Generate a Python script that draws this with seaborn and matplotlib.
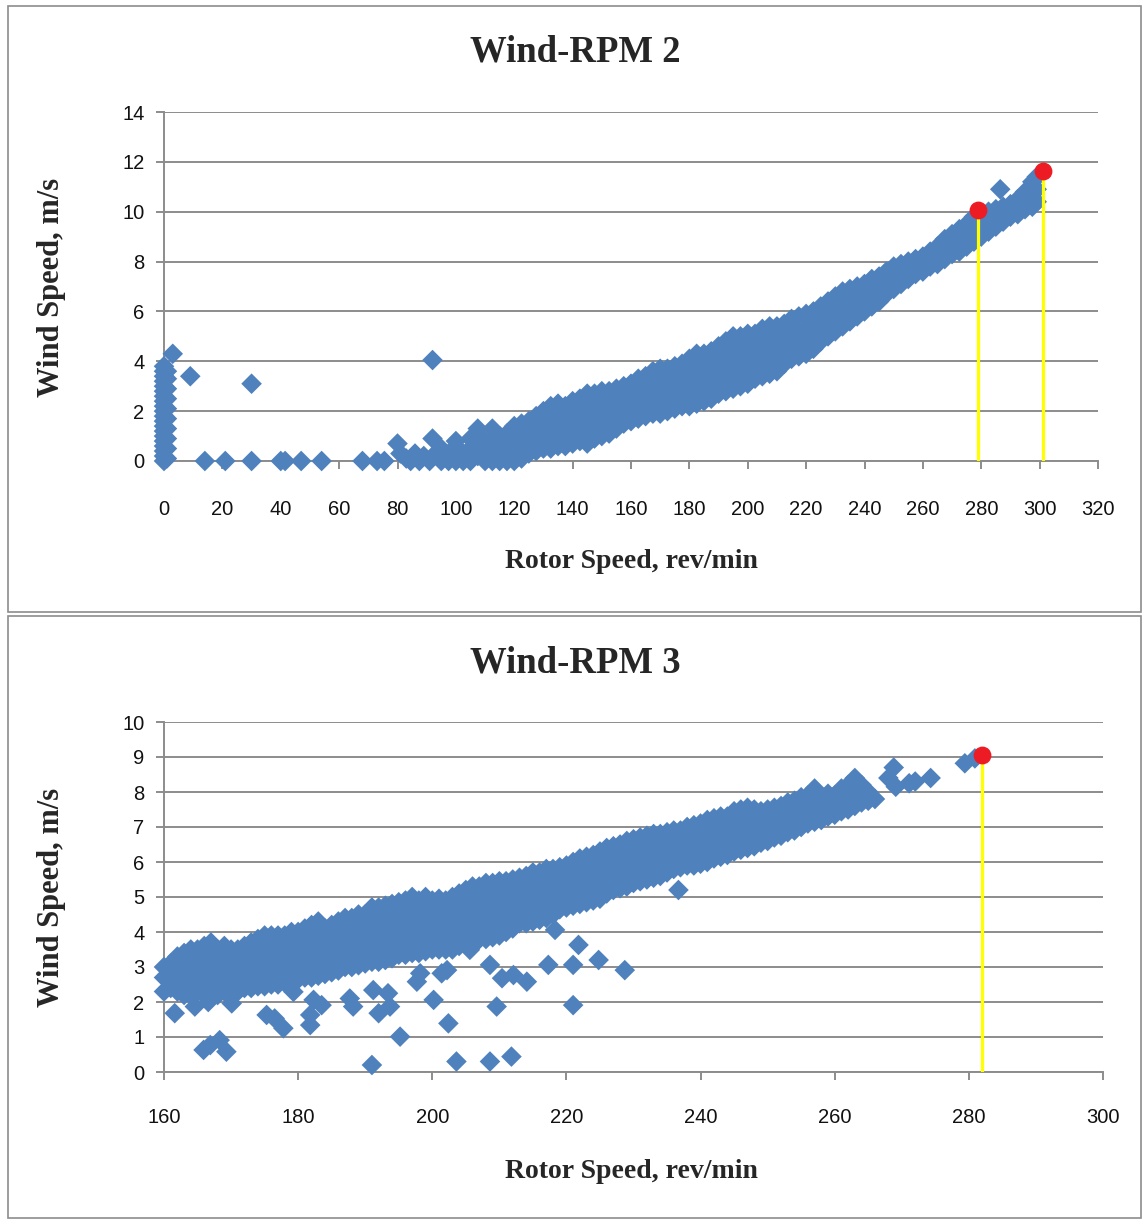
import pandas as pd
import seaborn as sns
import matplotlib.pyplot as plt
from matplotlib.patches import Rectangle

# ---- Wind-RPM 2 ----
# turbine standing still / idling near 0 rpm
idle2 = [(0, 0.0), (0, 0.2), (0, 0.4), (0, 0.6), (0, 0.8), (0, 1.0), (0, 1.2),
         (0, 1.4), (0, 1.6), (0, 1.8), (0, 2.0), (0, 2.2), (0, 2.4), (0, 2.6),
         (0, 2.8), (0, 3.0), (0, 3.2), (0, 3.4), (0, 3.6), (0, 3.8),
         (1, 0.1), (1, 0.5), (1, 0.9), (1, 1.3), (1, 1.7), (1, 2.1), (1, 2.5),
         (1, 2.9), (1, 3.3), (1, 3.6), (3, 4.3)]
sparse2 = [(9, 3.4), (30, 3.1), (14, 0.0), (21, 0.0), (30, 0.0), (40, 0.0),
           (41.5, 0.0), (47, 0.0), (54, 0.0), (68, 0.0), (73, 0.0), (75.5, 0.0),
           (80, 0.7), (81, 0.3), (83, 0.1), (84.5, 0.0), (86, 0.3), (87.5, 0.0),
           (89, 0.2), (91, 0.0), (92, 0.9), (92, 4.05), (93, 0.3), (286.5, 10.9)]
# main operating band, one column of readings per rotor speed
band2 = [
    (95, [0.0, 0.5]), (97.5, [0.0, 0.3]), (100, [0.0, 0.5, 0.8]),
    (102.5, [0.0, 0.3]), (105, [0.0, 0.5, 0.9]), (107.5, [0.2, 0.7, 1.0, 1.3]),
    (110, [0.0, 0.5, 0.8]), (112.5, [0.0, 0.3, 0.8, 1.3]), (115, [0.0, 0.5, 1.0]),
    (117.5, [0.0, 0.3, 0.8, 1.1]), (120, [0.0, 0.5, 1.0, 1.4]),
    (122.5, [0.1, 0.6, 1.1, 1.5]), (125, [0.3, 0.8, 1.3, 1.6]),
    (127.5, [0.4, 0.9, 1.4, 1.8]), (130, [0.5, 1.0, 1.5, 2.0]),
    (132.5, [0.5, 0.9, 1.4, 1.9, 2.2]), (135, [0.6, 1.1, 1.6, 2.1, 2.3]),
    (137.5, [0.6, 0.9, 1.4, 1.9, 2.2]), (140, [0.7, 1.2, 1.7, 2.2, 2.4]),
    (142.5, [0.8, 1.1, 1.6, 2.1, 2.5]), (145, [0.7, 1.2, 1.7, 2.2, 2.7]),
    (147.5, [0.9, 1.4, 1.9, 2.4, 2.7]), (150, [1.0, 1.5, 2.0, 2.5, 2.8]),
    (152.5, [1.1, 1.6, 2.1, 2.6, 2.8]), (155, [1.3, 1.8, 2.3, 2.7, 2.9]),
    (157.5, [1.5, 2.0, 2.5, 3.0]), (160, [1.6, 2.1, 2.6, 3.1]),
    (162.5, [1.7, 2.2, 2.7, 3.1, 3.3]), (165, [1.8, 2.3, 2.8, 3.3, 3.4]),
    (167.5, [1.9, 2.4, 2.9, 3.4, 3.6]), (170, [1.9, 2.4, 2.9, 3.4, 3.7]),
    (172.5, [2.0, 2.5, 3.0, 3.5, 3.7]), (175, [2.1, 2.6, 3.1, 3.6, 3.8]),
    (177.5, [2.2, 2.7, 3.2, 3.7, 3.9]), (180, [2.2, 2.7, 3.2, 3.7, 4.1]),
    (182.5, [2.3, 2.8, 3.3, 3.8, 4.3]), (185, [2.4, 2.9, 3.4, 3.9, 4.3]),
    (187.5, [2.5, 3.0, 3.5, 4.0, 4.4]), (190, [2.7, 3.2, 3.7, 4.2, 4.6]),
    (192.5, [2.8, 3.3, 3.8, 4.3, 4.8]), (195, [2.9, 3.4, 3.9, 4.4, 5.0]),
    (197.5, [3.0, 3.5, 4.0, 4.5, 5.0]), (200, [3.1, 3.6, 4.1, 4.6, 5.1]),
    (202.5, [3.3, 3.8, 4.3, 4.8, 5.1]), (205, [3.4, 3.9, 4.4, 4.9, 5.3]),
    (207.5, [3.5, 4.0, 4.5, 5.0, 5.4]), (210, [3.6, 4.1, 4.6, 5.1, 5.4]),
    (212.5, [3.9, 4.4, 4.9, 5.5]), (215, [4.1, 4.6, 5.1, 5.7]),
    (217.5, [4.2, 4.7, 5.2, 5.8]), (220, [4.3, 4.8, 5.3, 5.9]),
    (222.5, [4.5, 5.0, 5.5, 6.0]), (225, [4.8, 5.3, 5.8, 6.2]),
    (227.5, [5.0, 5.5, 6.0, 6.4]), (230, [5.2, 5.7, 6.2, 6.6]),
    (232.5, [5.4, 5.9, 6.4, 6.8]), (235, [5.6, 6.1, 6.6, 6.9]),
    (237.5, [5.8, 6.3, 6.8, 7.0]), (240, [6.0, 6.5, 7.1]),
    (242.5, [6.2, 6.7, 7.3]), (245, [6.4, 6.9, 7.4]), (247.5, [6.7, 7.2, 7.6]),
    (250, [6.9, 7.4, 7.8]), (252.5, [7.1, 7.6, 7.9]), (255, [7.3, 7.7, 8.0]),
    (257.5, [7.5, 7.9, 8.1]), (260, [7.6, 8.0, 8.2]), (262.5, [7.8, 8.2, 8.4]),
    (265, [7.9, 8.3, 8.6]), (267.5, [8.1, 8.6, 8.9]), (270, [8.3, 8.8, 9.1]),
    (272.5, [8.4, 8.9, 9.3]), (275, [8.6, 9.1, 9.5]), (277.5, [8.8, 9.3, 9.8]),
    (280, [9.0, 9.5, 9.9]), (282.5, [9.2, 9.6, 10.0]), (285, [9.4, 9.8, 10.1]),
    (287.5, [9.6, 10.0, 10.2]), (290, [9.8, 10.1, 10.3]),
    (292.5, [9.9, 10.3, 10.5]), (295, [10.1, 10.5, 10.8]),
    (297.5, [10.2, 10.7, 11.2]), (299, [10.4, 10.9, 11.4]),
]
peak2_x = [279, 301]
peak2_y = [10.05, 11.65]

# ---- Wind-RPM 3 ----
band3 = [
    (160, [2.3, 2.7, 3.0]), (161, [2.4, 2.8, 3.1]), (162, [2.3, 2.7, 3.1, 3.3]),
    (163, [2.2, 2.5, 2.9, 3.4]), (164, [2.2, 2.7, 3.1, 3.5]),
    (165, [2.3, 2.5, 2.9, 3.3, 3.5]), (166, [2.2, 2.7, 3.1, 3.6]),
    (167, [2.3, 2.5, 2.9, 3.3, 3.7]), (168, [2.2, 2.7, 3.1, 3.5]),
    (169, [2.3, 2.5, 2.9, 3.3, 3.6]), (170, [2.2, 2.7, 3.1, 3.5]),
    (171, [2.3, 2.5, 2.9, 3.3, 3.5]), (172, [2.4, 2.7, 3.1, 3.5, 3.6]),
    (173, [2.4, 2.9, 3.3, 3.7]), (174, [2.45, 2.7, 3.1, 3.5, 3.8]),
    (175, [2.45, 2.9, 3.3, 3.7, 3.9]), (176, [2.5, 2.7, 3.1, 3.5, 3.9]),
    (177, [2.5, 2.9, 3.3, 3.7, 3.9]), (178, [2.55, 3.1, 3.5, 3.9]),
    (179, [2.6, 2.9, 3.3, 3.7, 4.0]), (180, [2.65, 3.1, 3.5, 3.9, 4.0]),
    (181, [2.7, 2.9, 3.3, 3.7, 4.1]), (182, [2.7, 3.1, 3.5, 3.9, 4.2]),
    (183, [2.75, 3.1, 3.5, 3.9, 4.3]), (184, [2.8, 3.3, 3.7, 4.1]),
    (185, [2.85, 3.1, 3.5, 3.9, 4.2]), (186, [2.9, 3.3, 3.7, 4.1, 4.3]),
    (187, [3.0, 3.5, 3.9, 4.3, 4.4]), (188, [3.0, 3.3, 3.7, 4.1, 4.4]),
    (189, [3.05, 3.5, 3.9, 4.3, 4.5]), (190, [3.1, 3.3, 3.7, 4.1, 4.5]),
    (191, [3.15, 3.5, 3.9, 4.3, 4.7]), (192, [3.15, 3.7, 4.1, 4.5, 4.7]),
    (193, [3.2, 3.5, 3.9, 4.3, 4.75]), (194, [3.25, 3.7, 4.1, 4.5, 4.8]),
    (195, [3.35, 3.9, 4.3, 4.7, 4.85]), (196, [3.35, 3.7, 4.1, 4.5, 4.9]),
    (197, [3.4, 3.9, 4.3, 4.7, 5.0]), (198, [3.4, 3.7, 4.1, 4.5, 4.9]),
    (199, [3.45, 3.9, 4.3, 4.7, 5.0]), (200, [3.5, 3.7, 4.1, 4.5, 4.9]),
    (201, [3.5, 3.9, 4.3, 4.7, 4.95]), (202, [3.5, 3.7, 4.1, 4.5, 4.9]),
    (203, [3.5, 3.9, 4.3, 4.7, 5.0]), (204, [3.6, 4.1, 4.5, 4.9, 5.1]),
    (205, [3.7, 3.9, 4.3, 4.7, 5.1, 5.2]), (206, [3.75, 4.1, 4.5, 4.9, 5.3]),
    (207, [3.8, 4.3, 4.7, 5.1, 5.3]), (208, [3.8, 4.1, 4.5, 4.9, 5.3, 5.4]),
    (209, [3.85, 4.3, 4.7, 5.1, 5.4]), (210, [3.9, 4.1, 4.5, 4.9, 5.3, 5.45]),
    (211, [4.0, 4.3, 4.7, 5.1, 5.45]), (212, [4.1, 4.5, 4.9, 5.3, 5.5]),
    (213, [4.25, 4.7, 5.1, 5.55]), (214, [4.25, 4.5, 4.9, 5.3, 5.6]),
    (215, [4.3, 4.7, 5.1, 5.5, 5.7]), (216, [4.35, 4.9, 5.3, 5.7]),
    (217, [4.4, 4.7, 5.1, 5.5, 5.8]), (218, [4.5, 4.9, 5.3, 5.7, 5.8]),
    (219, [4.65, 5.1, 5.5, 5.85]), (220, [4.7, 4.9, 5.3, 5.7, 5.9]),
    (221, [4.75, 5.1, 5.5, 6.0]), (222, [4.8, 5.3, 5.7, 6.1]),
    (223, [4.85, 5.1, 5.5, 5.9, 6.15]), (224, [4.9, 5.3, 5.7, 6.1, 6.2]),
    (225, [4.95, 5.5, 5.9, 6.3]), (226, [5.1, 5.3, 5.7, 6.1, 6.4]),
    (227, [5.2, 5.5, 5.9, 6.3, 6.45]), (228, [5.25, 5.7, 6.1, 6.5]),
    (229, [5.3, 5.5, 5.9, 6.3, 6.6]), (230, [5.4, 5.7, 6.1, 6.5, 6.65]),
    (231, [5.45, 5.9, 6.3, 6.7]), (232, [5.5, 5.7, 6.1, 6.5, 6.75]),
    (233, [5.55, 5.9, 6.3, 6.8]), (234, [5.6, 6.1, 6.5, 6.8]),
    (235, [5.7, 5.9, 6.3, 6.7, 6.85]), (236, [5.8, 6.1, 6.5, 6.9]),
    (237, [5.85, 6.3, 6.7, 6.9]), (238, [5.9, 6.1, 6.5, 6.9, 7.0]),
    (239, [5.9, 6.3, 6.7, 7.05]), (240, [5.95, 6.1, 6.5, 6.9, 7.1]),
    (241, [6.0, 6.3, 6.7, 7.2]), (242, [6.1, 6.5, 6.9, 7.25]),
    (243, [6.15, 6.3, 6.7, 7.1, 7.3]), (244, [6.2, 6.5, 6.9, 7.3]),
    (245, [6.3, 6.7, 7.1, 7.45]), (246, [6.35, 6.5, 6.9, 7.3, 7.5]),
    (247, [6.4, 6.7, 7.1, 7.55]), (248, [6.45, 6.9, 7.3, 7.5]),
    (249, [6.55, 6.7, 7.1, 7.45]), (250, [6.6, 6.9, 7.3, 7.5]),
    (251, [6.7, 7.1, 7.55]), (252, [6.75, 6.9, 7.3, 7.6]),
    (253, [6.85, 7.1, 7.5, 7.7]), (254, [6.9, 7.3, 7.75]),
    (255, [7.0, 7.1, 7.5, 7.85]), (256, [7.1, 7.3, 7.7, 7.9]),
    (257, [7.15, 7.5, 7.9, 8.1]), (258, [7.2, 7.5, 7.8]),
    (259, [7.3, 7.7, 7.95]), (260, [7.35, 7.5, 7.9]), (261, [7.45, 7.7, 8.1]),
    (262, [7.5, 7.9, 8.2]), (263, [7.6, 7.8, 8.1, 8.4]), (264, [7.7, 8.0, 8.2]),
    (265, [7.75, 8.0]), (266, [7.8]),
]
sparse3 = [(161.6, 1.68), (164.6, 1.87), (166.6, 2.0), (165.9, 0.63), (166.9, 0.77),
           (168.3, 0.91), (169.3, 0.58), (170.1, 1.96), (175.3, 1.63), (176.5, 1.53),
           (177.8, 1.25), (179.3, 2.29), (181.8, 1.34), (181.8, 1.63), (182.3, 2.06),
           (183.5, 1.91), (187.7, 2.1), (188.2, 1.87), (191.0, 0.2), (191.2, 2.34),
           (192.0, 1.68), (193.4, 2.25), (193.7, 1.87), (195.2, 1.01), (197.7, 2.58),
           (198.2, 2.82), (200.2, 2.06), (201.4, 2.82), (202.2, 2.91), (202.4, 1.39),
           (203.6, 0.3), (205.6, 3.49), (206.6, 3.72), (208.6, 3.06), (208.6, 0.3),
           (209.6, 1.87), (210.4, 2.68), (211.8, 0.44), (212.1, 2.77), (214.1, 2.58),
           (217.3, 3.06), (218.3, 4.06), (221.0, 3.06), (221.0, 1.91), (221.8, 3.63),
           (224.8, 3.2), (228.7, 2.91), (236.7, 5.2),
           (268.0, 8.4), (268.8, 8.7), (269.1, 8.15), (271.1, 8.25), (272.0, 8.3),
           (274.3, 8.4), (279.4, 8.82), (280.9, 8.96)]
peak3_x = [282]
peak3_y = [9.05]


def to_frame(points, columns):
    rows = list(points)
    for x, ys in columns:
        rows += [(x, y) for y in ys]
    return pd.DataFrame(rows, columns=['rpm', 'wind'])


df2 = to_frame(idle2 + sparse2, band2)
df3 = to_frame(sparse3, band3)

blue = '#4F81BD'
grey = '#8C8C8C'
serif = ['Liberation Serif', 'DejaVu Serif']
tickfont = ['Liberation Sans Narrow', 'Liberation Sans', 'DejaVu Sans']

sns.set_style('white')
plt.rcParams['font.family'] = tickfont

W, H = 1142, 1221
fig = plt.figure(figsize=(W / 100, H / 100), dpi=100)

# Excel chart frames
for top, bot in [(6, 612), (616, 1218)]:
    fig.add_artist(Rectangle((8 / W, 1 - bot / H), 1133 / W, (bot - top) / H,
                             transform=fig.transFigure, fill=False,
                             ec=grey, lw=1.2))


def style_axes(ax, xlim, ylim, xticks, yticks, xpad):
    ax.set_xlim(*xlim)
    ax.set_ylim(*ylim)
    ax.set_xticks(xticks)
    ax.set_yticks(yticks)
    ax.set_axisbelow(True)
    ax.yaxis.grid(True, color=grey, lw=1.4)
    ax.xaxis.grid(False)
    for side in ['top', 'right']:
        ax.spines[side].set_visible(False)
    for side in ['left', 'bottom']:
        ax.spines[side].set_color(grey)
        ax.spines[side].set_linewidth(1.4)
    ax.tick_params(axis='both', direction='out', length=6, width=1.4,
                   color=grey, labelsize=14.5, labelcolor='#111111')
    ax.tick_params(axis='x', pad=xpad)
    ax.tick_params(axis='y', pad=8, left=True)
    ax.tick_params(axis='x', bottom=True)
    ax.set_xlabel('')
    ax.set_ylabel('')


MS = 110  # diamond marker area

# ---- top chart ----
ax1 = fig.add_axes([164 / W, 1 - 461 / H, 934 / W, 349 / H])
sns.scatterplot(data=df2, x='rpm', y='wind', marker='D', s=MS, color=blue,
                edgecolor='none', linewidth=0, clip_on=False, ax=ax1, zorder=3)
for x, y in zip(peak2_x, peak2_y):
    ax1.plot([x, x], [0, y], color='#FFFF00', lw=2.3, zorder=4)
ax1.scatter(peak2_x, peak2_y, s=140, color='#ED1C24', zorder=5, clip_on=False)
style_axes(ax1, (0, 320), (0, 14), range(0, 321, 20), range(0, 15, 2), 22)

# ---- bottom chart ----
ax2 = fig.add_axes([164 / W, 1 - 1072 / H, 939 / W, 350 / H])
sns.scatterplot(data=df3, x='rpm', y='wind', marker='D', s=MS, color=blue,
                edgecolor='none', linewidth=0, clip_on=False, ax=ax2, zorder=3)
for x, y in zip(peak3_x, peak3_y):
    ax2.plot([x, x], [0, y], color='#FFFF00', lw=2.3, zorder=4)
ax2.scatter(peak3_x, peak3_y, s=140, color='#ED1C24', zorder=5, clip_on=False)
style_axes(ax2, (160, 300), (0, 10), range(160, 301, 20), range(0, 11, 1), 20)

# titles and axis labels
for title, ty, xy, yy in [('Wind-RPM 2', 52, 562, 287), ('Wind-RPM 3', 663, 1172, 897)]:
    fig.text(575 / W, 1 - ty / H, title, ha='center', va='center',
             fontsize=26.5, fontweight='bold', family=serif)
    fig.text(631 / W, 1 - xy / H, 'Rotor Speed, rev/min', ha='center',
             va='center', fontsize=20, fontweight='bold', family=serif)
    fig.text(52 / W, 1 - yy / H, 'Wind Speed, m/s', ha='center', va='center',
             rotation=90, fontsize=22, fontweight='bold', family=serif)

plt.savefig('out.png', dpi=100)
